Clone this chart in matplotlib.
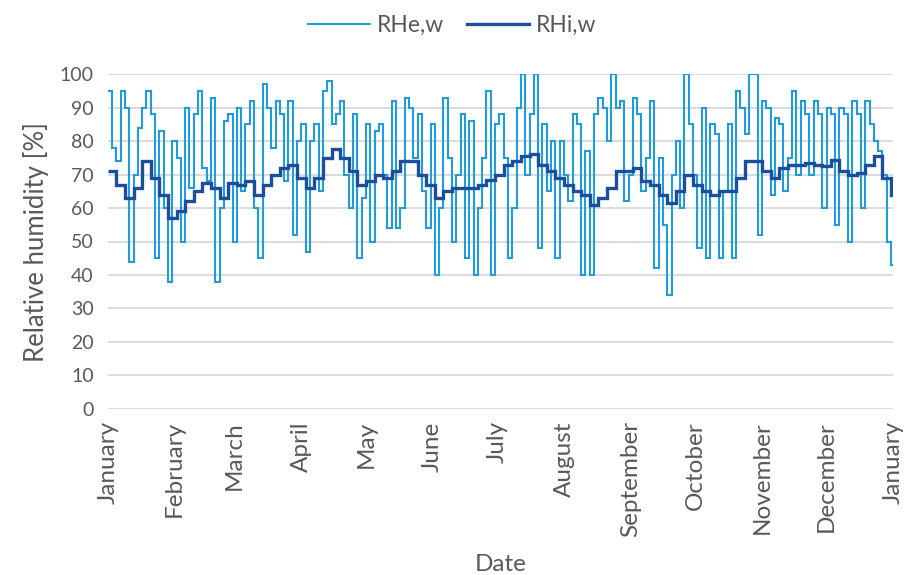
import numpy as np
import pandas as pd
import matplotlib
matplotlib.use("Agg")
import matplotlib.pyplot as plt
import matplotlib.dates as mdates

plt.rcParams['font.family'] = ['Lato', 'DejaVu Sans']

# external relative humidity, 2-day values through the year
rhe_w = [
    95, 78, 74, 95, 90, 44, 70, 84, 90, 95, 88, 45, 83, 60, 38, 80, 75, 50, 90, 66,
    88, 95, 72, 68, 93, 38, 60, 86, 88, 50, 90, 65, 85, 92, 60, 45, 97, 90, 78, 92,
    88, 68, 92, 52, 80, 85,
    47, 80, 85, 65, 95, 98, 85, 88, 92, 70, 60, 88, 45, 63, 85, 50, 83, 85, 70, 54,
    92, 54, 60, 93, 90, 75, 88, 65, 54, 85, 40, 60, 93, 75, 50, 70, 88, 45, 86, 40,
    60, 75, 95, 40, 85,
    88, 75, 45, 60, 90, 100, 70, 88, 100, 48, 85, 65, 80, 45, 80, 70, 62, 88, 85, 40,
    77, 40, 88, 93, 90, 80, 100, 90, 92, 62, 70, 93, 88, 65, 75, 92, 42, 75, 55, 34,
    70, 80, 60, 100, 85, 70,
    48, 90, 45, 85, 82, 45, 65, 85, 45, 95, 90, 82, 100, 100, 52, 92, 90, 64, 87, 85,
    65, 75, 95, 70, 92, 88, 70, 92, 88, 60, 90, 88, 55, 90, 88, 50, 92, 88, 60, 92,
    85, 80, 77, 70, 50, 43,
]

# internal relative humidity, 4-day values
rhi_w = [
    71, 67, 63, 66, 74, 69, 64, 57, 59, 62, 65, 67.5, 66, 63, 67.5, 67, 68, 64, 67, 70,
    72, 73, 69, 66, 69, 75, 77.5, 75, 71, 67, 68, 70, 69, 71, 74, 74, 70, 67, 63, 65,
    66, 66, 66, 67, 68.5, 70, 73, 74, 75.5, 76, 73, 71, 69, 67, 65, 64, 61, 63, 66, 71,
    71, 72, 68, 67, 64, 61.5, 65, 70, 67, 65, 64, 65, 65, 69, 74, 74, 71, 69, 72, 73,
    73, 73.5, 73, 72.5, 74.5, 71, 70, 70.5, 73, 75.5, 69, 64,
]

start = pd.Timestamp("2021-01-01")
end = pd.Timestamp("2022-01-01")

edges_e = list(pd.date_range(start, periods=len(rhe_w), freq="2D")) + [end]
edges_i = list(pd.date_range(start, periods=len(rhi_w), freq="4D")) + [end]

text_gray = "#595959"

fig = plt.figure(figsize=(9.05, 5.75), dpi=100)
ax = fig.add_axes([0.119, 0.289, 0.868, 0.582])

ax.stairs(rhe_w, mdates.date2num(edges_e), color="#229bdb", linewidth=1.5,
          baseline=None, label="RHe,w")
ax.stairs(rhi_w, mdates.date2num(edges_i), color="#1b4f9c", linewidth=2.4,
          baseline=None, label="RHi,w")

ax.set_xlim(mdates.date2num(start), mdates.date2num(end))
ax.set_ylim(0, 100)
ax.set_yticks(range(0, 101, 10))
ax.xaxis.set_major_locator(mdates.MonthLocator())
ax.xaxis.set_major_formatter(mdates.DateFormatter("%B"))

ax.grid(axis="y", color="#d9d9d9", linewidth=1.3)
ax.set_axisbelow(True)
for s in ax.spines.values():
    s.set_visible(False)
ax.tick_params(axis="both", length=0, labelcolor=text_gray)
ax.tick_params(axis="y", labelsize=14, pad=10)
ax.tick_params(axis="x", labelsize=17.5, pad=9)
for lbl in ax.get_xticklabels():
    lbl.set_rotation(90)
    lbl.set_va("top")
    lbl.set_ha("center")

ax.set_xlabel("Date", fontsize=17.5, color=text_gray, labelpad=12)
ax.set_ylabel("Relative humidity [%]", fontsize=18.5, color=text_gray, labelpad=8)

fig.legend(loc="upper center", bbox_to_anchor=(0.5, 1.01), ncol=2, frameon=False,
           fontsize=16.5, handlelength=2.7, handletextpad=0.3, columnspacing=1.0,
           labelcolor=text_gray)

fig.savefig("out.png", dpi=100)
